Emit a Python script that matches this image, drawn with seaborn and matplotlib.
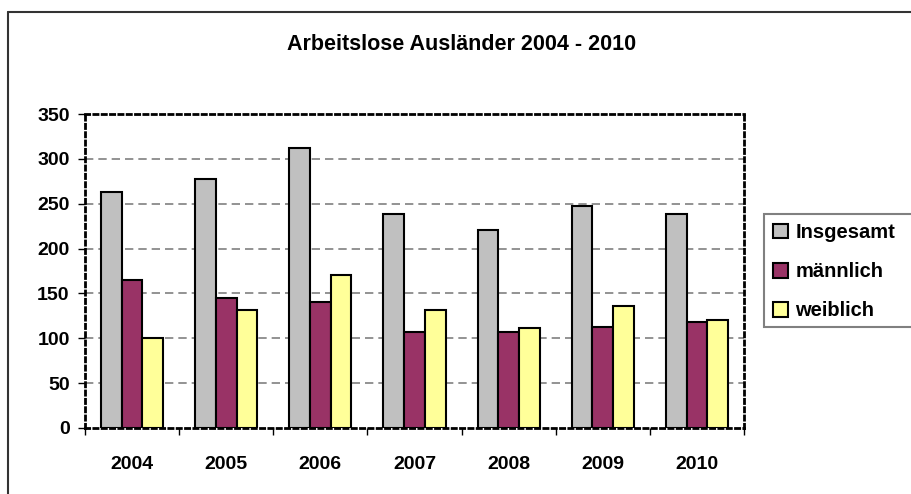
import matplotlib
matplotlib.use("Agg")
import matplotlib.pyplot as plt
import seaborn as sns
import pandas as pd
from matplotlib.lines import Line2D
from matplotlib.patches import Rectangle

years = ["2004", "2005", "2006", "2007", "2008", "2009", "2010"]
insgesamt = [263, 277, 312, 238, 221, 247, 238]
maennlich = [165, 145, 140, 107, 107, 113, 118]
weiblich = [100, 131, 170, 131, 111, 136, 120]
series_names = ["Insgesamt", "männlich", "weiblich"]
colors = ["#C0C0C0", "#993366", "#FFFF99"]
y_ticks = [0, 50, 100, 150, 200, 250, 300, 350]

df = pd.DataFrame({
    "Jahr": years * 3,
    "Wert": insgesamt + maennlich + weiblich,
    "Serie": [series_names[0]] * 7 + [series_names[1]] * 7 + [series_names[2]] * 7,
})

sns.set_theme(style="white")
plt.rcParams["font.family"] = ["Liberation Sans", "DejaVu Sans"]
plt.rcParams["font.weight"] = "bold"
plt.rcParams["text.color"] = "black"
plt.rcParams["xtick.color"] = "black"
plt.rcParams["ytick.color"] = "black"
plt.rcParams["xtick.labelcolor"] = "black"
plt.rcParams["ytick.labelcolor"] = "black"

W, H = 911, 494
fig = plt.figure(figsize=(W / 100, H / 100), dpi=100)
fig.patch.set_facecolor("white")
L, R, T, B = 85, 744, 114, 428
ax = fig.add_axes([L / W, 1 - B / H, (R - L) / W, (B - T) / H])

sns.barplot(data=df, x="Jahr", y="Wert", hue="Serie", order=years,
            hue_order=series_names, palette=colors, width=0.66,
            edgecolor="black", linewidth=1.5, saturation=1, ax=ax, legend=False)

ax.set_xlim(-0.5, 6.5)
ax.set_ylim(0, 350)
ax.set_yticks(y_ticks)
ax.set_yticklabels([str(v) for v in y_ticks], fontsize=14, fontweight="bold")
ax.set_xticks(range(len(years)))
ax.set_xticklabels(years, fontsize=14, fontweight="bold")
ax.set_xticks([i + 0.5 for i in range(-1, 7)], minor=True)
ax.tick_params(axis="x", which="major", length=0, pad=20)
ax.tick_params(axis="x", which="minor", length=5, width=1, color="black", direction="out", bottom=True)
ax.tick_params(axis="y", which="major", length=5, width=1, color="black", direction="out", left=True, pad=6)
ax.set_xlabel("")
ax.set_ylabel("")

for v in y_ticks[1:-1]:
    ax.axhline(v, color="#808080", linestyle=(0, (5, 3)), linewidth=1.2, zorder=0)

for s in ax.spines.values():
    s.set_visible(True)
    s.set_color("black")
    s.set_linewidth(2)
    s.set_linestyle((0, (1.5, 1.5)))

fig.text(462 / W, 1 - 45 / H, "Arbeitslose Ausländer 2004 - 2010",
         ha="center", va="center", fontsize=15.5, fontweight="bold", color="black")

# outer chart border (left and top only visible)
fig.add_artist(Line2D([8 / W, 8 / W], [1 - 12 / H, 0], transform=fig.transFigure,
                      color="#333333", linewidth=1.5))
fig.add_artist(Line2D([8 / W, 1], [1 - 12 / H, 1 - 12 / H], transform=fig.transFigure,
                      color="#333333", linewidth=1.5))

# legend frame (extends past right edge of the image)
fig.add_artist(Rectangle((764 / W, 1 - 327 / H), 200 / W, 113 / H, transform=fig.transFigure,
                         facecolor="white", edgecolor="#808080", linewidth=1.5, zorder=3))

handles = [Rectangle((0, 0), 1, 1, facecolor=c, edgecolor="black", linewidth=1.5) for c in colors]
leg = fig.legend(handles, series_names, loc="upper left",
                 bbox_to_anchor=(764 / W, 1 - 214 / H), bbox_transform=fig.transFigure,
                 frameon=False,
                 prop={"size": 14.5, "weight": "bold"},
                 handlelength=0.75, handleheight=0.75, handletextpad=0.35,
                 labelspacing=1.0, borderpad=0.45, borderaxespad=0)
leg.set_zorder(4)
for t in leg.get_texts():
    t.set_color("black")

fig.savefig("out.png", dpi=100, facecolor="white")
